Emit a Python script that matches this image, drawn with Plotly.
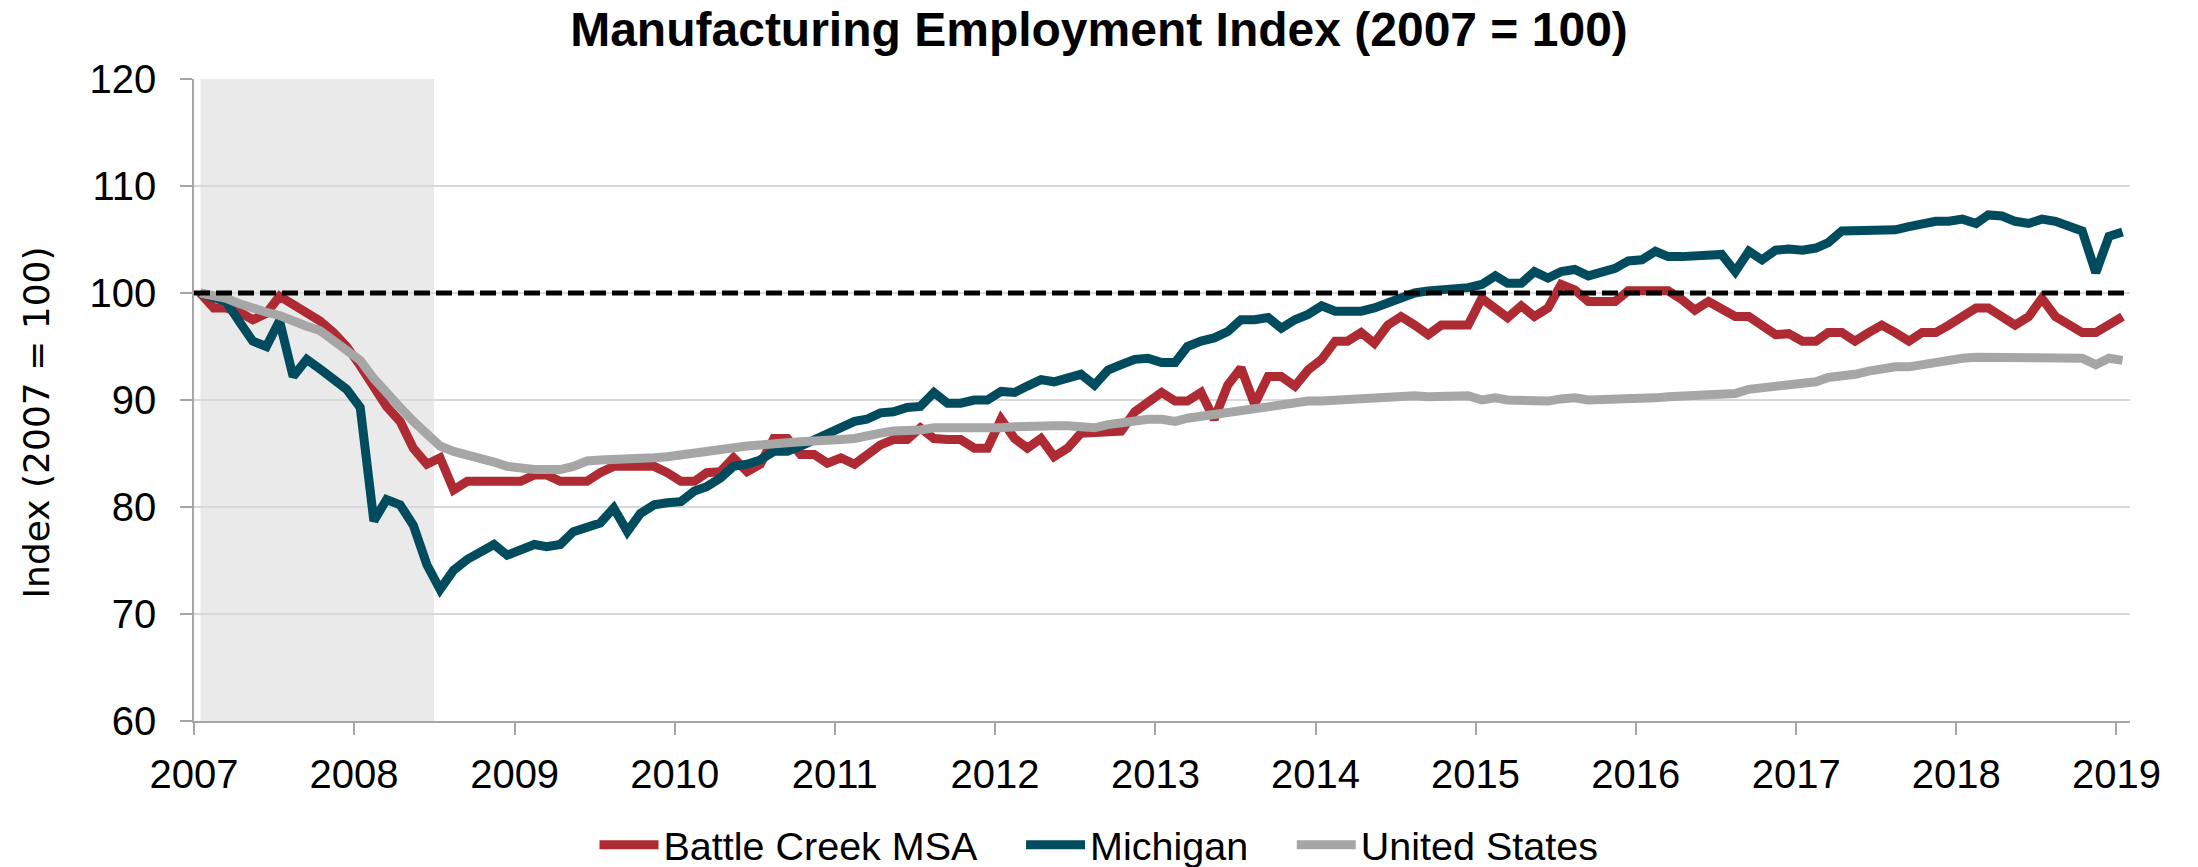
import pandas as pd
import plotly.graph_objects as go

# ---------------- data ----------------
START_MONTH = "2007-01-01"
N_MONTHS = 145  # Jan 2007 .. Jan 2019

battle_creek = [
    100, 98.6, 98.6, 98.2, 97.5, 98.1, 99.7, 98.9, 98.2, 97.4, 96.3, 95.0,
    93.2, 91.3, 89.4, 88.0, 85.5, 84.0, 84.6, 81.6, 82.4, 82.4, 82.4, 82.4,
    82.4, 83.0, 83.0, 82.4, 82.4, 82.4, 83.2, 83.8, 83.8, 83.8, 83.8, 83.2,
    82.4, 82.4, 83.2, 83.3, 84.6, 83.3, 84.0, 86.4, 86.4, 84.9, 84.9, 84.1,
    84.6, 84.0, 84.9, 85.8, 86.3, 86.3, 87.4, 86.4, 86.3, 86.3, 85.5, 85.5,
    88.2, 86.4, 85.5, 86.4, 84.7, 85.5, 86.9, 86.9, 87.1, 87.1, 88.9, 89.9,
    90.7, 89.9, 89.9, 90.7, 88.2, 91.4, 93.0, 89.6, 92.2, 92.2, 91.3, 92.8,
    93.8, 95.5, 95.5, 96.3, 95.3, 97.0, 97.8, 97.0, 96.1, 97.0, 97.0, 97.0,
    99.5, 98.6, 97.7, 98.8, 97.8, 98.6, 100.8, 100.3, 99.2, 99.2, 99.2, 100.2,
    100.2, 100.2, 100.2, 99.4, 98.4, 99.2, 98.4, 97.8, 97.8, 96.9, 96.1, 96.2,
    95.5, 95.5, 96.3, 96.3, 95.5, 96.3, 97.0, 96.3, 95.5, 96.3, 96.3, 97.0,
    97.8, 98.6, 98.6, 97.8, 97.0, 97.8, 99.5, 97.8, 97.0, 96.3, 96.3, 97.0,
    97.8,
]

michigan = [
    100, 99.6, 99.2, 97.3, 95.5, 95.0, 97.4, 92.2, 93.8, 92.9, 92.0, 91.0,
    89.3, 78.7, 80.7, 80.2, 78.3, 74.6, 72.3, 74.1, 75.1, 75.8, 76.5, 75.5,
    75.9, 76.5, 76.3, 76.5, 77.7, 78.2, 78.5, 79.9, 77.7, 79.4, 80.2, 80.4,
    80.5, 81.5, 81.9, 82.7, 83.8, 84.0, 84.4, 85.2, 85.2, 85.7, 86.3, 86.9,
    87.5, 88.0, 88.2, 88.8, 88.9, 89.3, 89.4, 90.7, 89.7, 89.7, 90.0, 90.0,
    90.8, 90.7, 91.3, 91.9, 91.7, 92.1, 92.4, 91.4, 92.8, 93.3, 93.8, 93.9,
    93.5, 93.5, 95.0, 95.5, 95.8, 96.4, 97.5, 97.5, 97.7, 96.7, 97.5, 98.0,
    98.8, 98.3, 98.3, 98.3, 98.6, 99.1, 99.4, 100.0, 100.2, 100.3, 100.3, 100.5,
    100.8, 101.6, 100.9, 100.9, 102.0, 101.4, 102.0, 102.2, 101.6, 102.0, 102.3, 103.0,
    103.1, 103.9, 103.4, 103.4, 103.4, 103.6, 103.6, 102.0, 103.9, 103.1, 104.0, 104.1,
    104.0, 104.2, 104.7, 105.8, 105.8, 105.8, 105.8, 105.9, 106.2, 106.5, 106.7, 106.7,
    106.9, 106.5, 107.3, 107.2, 106.7, 106.5, 106.9, 106.7, 106.2, 105.8, 101.9, 105.3,
    105.7,
]

united_states = [
    100, 99.8, 99.5, 99.0, 98.5, 98.2, 97.9, 97.3, 96.9, 96.5, 95.6, 94.7,
    93.7, 92.0, 90.6, 89.3, 88.0, 86.7, 85.7, 85.2, 84.9, 84.6, 84.2, 83.8,
    83.6, 83.5, 83.5, 83.5, 83.8, 84.3, 84.4, 84.4, 84.4, 84.5, 84.6, 84.7,
    84.9, 85.0, 85.3, 85.4, 85.7, 85.7, 85.8, 86.0, 86.0, 86.1, 86.1, 86.3,
    86.3, 86.4, 86.7, 86.9, 87.1, 87.1, 87.2, 87.4, 87.3, 87.4, 87.4, 87.3,
    87.4, 87.5, 87.6, 87.6, 87.6, 87.6, 87.6, 87.4, 87.7, 87.9, 88.1, 88.2,
    88.2, 88.0, 88.3, 88.5, 88.6, 88.8, 89.0, 89.2, 89.3, 89.6, 89.8, 89.9,
    89.9, 90.0, 90.0, 90.1, 90.2, 90.3, 90.3, 90.4, 90.3, 90.3, 90.4, 90.4,
    90.0, 90.2, 90.0, 89.9, 89.9, 89.9, 90.1, 90.2, 90.0, 90.0, 90.0, 90.0,
    90.1, 90.2, 90.3, 90.4, 90.4, 90.5, 90.6, 90.6, 91.0, 91.1, 91.3, 91.3,
    91.5, 91.7, 92.1, 92.2, 92.4, 92.7, 93.0, 93.1, 93.1, 93.3, 93.6, 93.8,
    93.9, 94.0, 94.0, 94.0, 94.0, 94.0, 94.0, 94.0, 94.0, 93.9, 93.3, 93.9,
    93.7,
]

series_names = ["Battle Creek MSA", "Michigan", "United States"]
series_colors = ["#AF2B33", "#004C5E", "#A6A6A6"]

baseline_value = 100
recession_start = "2007-01-16"
recession_end = "2008-07-01"
x_range = ["2007-01-01", "2019-02-01"]
year_ticks = [f"{y}-01-01" for y in range(2007, 2020)]
year_labels = [str(y) for y in range(2007, 2020)]
y_ticks = [60, 70, 80, 90, 100, 110, 120]

title_text = "Manufacturing Employment Index (2007 = 100)"
y_title_text = "Index (2007 = 100)"

# ---------------- figure ----------------
FIG_W, FIG_H = 2198, 867
M_L, M_R, M_T, M_B = 194, 68, 79, 146
PLOT_W = FIG_W - M_L - M_R
PLOT_H = FIG_H - M_T - M_B

months = pd.date_range(START_MONTH, periods=N_MONTHS, freq="MS") + pd.Timedelta(days=14)

# extra spacing after the first two legend entries, as in the original legend
legend_pad = ["\u2002\u2009\u00a0", "\u2002\u2009\u00a0", ""]

fig = go.Figure()
for name, pad, vals, col in zip(series_names, legend_pad,
                                [battle_creek, michigan, united_states], series_colors):
    fig.add_trace(go.Scatter(
        x=months, y=vals, name=name + pad, mode="lines",
        line=dict(color=col, width=9),
        hovertemplate=name + ": %{y:.1f}<extra></extra>",
    ))

fig.add_trace(go.Scatter(
    x=x_range, y=[baseline_value, baseline_value], mode="lines",
    line=dict(color="black", width=5, dash="16px,6px"),
    showlegend=False, hoverinfo="skip",
))

fig.add_shape(type="rect", xref="x", yref="paper",
              x0=recession_start, x1=recession_end, y0=0, y1=1,
              fillcolor="#EAEAEA", line=dict(width=0), layer="below")

tick_font = dict(family="Liberation Sans, Arial, sans-serif", size=40, color="#000000")

fig.update_layout(
    width=FIG_W, height=FIG_H,
    margin=dict(l=M_L, r=M_R, t=M_T, b=M_B, autoexpand=False),
    paper_bgcolor="white", plot_bgcolor="white",
    title=dict(text=f"<b>{title_text}</b>", x=0.5, xref="container", xanchor="center",
               y=1 - 29.5 / FIG_H, yref="container", yanchor="middle",
               font=dict(family="Liberation Sans, Arial, sans-serif", size=48, color="#000000")),
    xaxis=dict(type="date", range=x_range, tickvals=year_ticks, ticktext=year_labels,
               showgrid=False, zeroline=False,
               showline=True, linecolor="#A6A6A6", linewidth=1.5,
               ticks="outside", ticklen=12, tickcolor="#A6A6A6", tickwidth=1.5,
               tickfont=tick_font, ticklabelstandoff=5),
    yaxis=dict(range=[60, 120], tickvals=y_ticks,
               showgrid=True, gridcolor="#D9D9D9", gridwidth=1.5, zeroline=False,
               showline=True, linecolor="#A6A6A6", linewidth=1.5,
               ticks="outside", ticklen=12, tickcolor="#A6A6A6", tickwidth=1.5,
               tickfont=tick_font, ticklabelstandoff=16),
    legend=dict(orientation="h", x=(1099 - M_L) / PLOT_W, xanchor="center",
                y=(721 - 845) / PLOT_H, yanchor="middle",
                font=dict(family="Liberation Sans, Arial, sans-serif", size=39.5, color="#000000"),
                bgcolor="rgba(0,0,0,0)", itemwidth=59),
    showlegend=True,
    annotations=[dict(text=y_title_text, xref="paper", yref="paper",
                      x=(36 - M_L) / PLOT_W, y=(721 - 422.5) / PLOT_H,
                      xanchor="center", yanchor="middle", textangle=-90, showarrow=False,
                      font=dict(family="DejaVu Sans, sans-serif", size=36, color="#000000"))],
)

fig.write_html("out.html", config={"displayModeBar": False},
               post_script="document.body.style.margin = '0px';")
